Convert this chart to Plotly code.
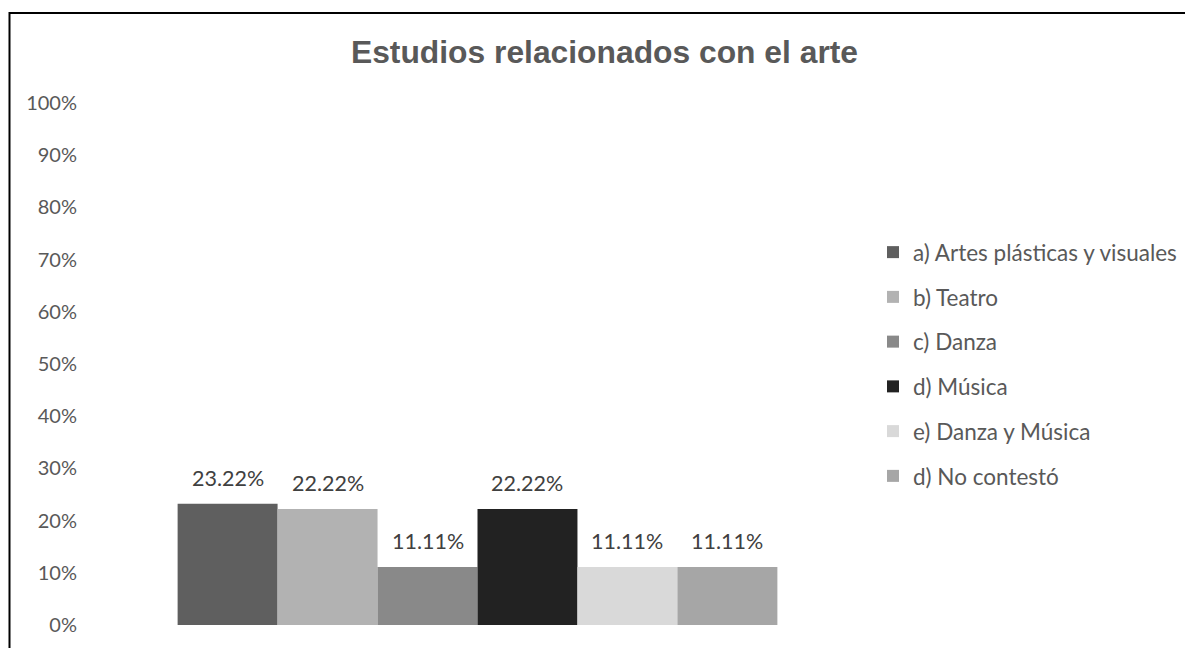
import plotly.graph_objects as go

series_names = [
    "a) Artes plásticas y visuales",
    "b) Teatro",
    "c) Danza",
    "d) Música",
    "e) Danza y Música",
    "d) No contestó",
]
series_values = [0.2322, 0.2222, 0.1111, 0.2222, 0.1111, 0.1111]
series_colors = ["#5f5f5f", "#b2b2b2", "#898989", "#222222", "#d9d9d9", "#a6a6a6"]
category = [""]
y_ticks = [0, 0.1, 0.2, 0.3, 0.4, 0.5, 0.6, 0.7, 0.8, 0.9, 1.0]

W, H = 1185, 648
ML, MR, MT, MB = 95, 325, 103, 23
BARGAP = 0.216
plot_w = W - ML - MR
plot_h = H - MT - MB


def px_x(sx):
    return (sx - ML) / plot_w


def px_y(sy):
    return (H - MB - sy) / plot_h


FONT = "Lato, Open Sans, sans-serif"

fig = go.Figure()
n = len(series_names)
for i, (name, val, col) in enumerate(zip(series_names, series_values, series_colors)):
    fig.add_trace(go.Bar(
        x=category, y=[val], name=name, marker=dict(color=col, line=dict(width=0)),
        legendgroup=f"g{i}",
        hoverinfo="skip",
    ))
    # data label above each bar (offset within the bar group)
    offset = -(1 - BARGAP) / 2 + (i + 0.5) * (1 - BARGAP) / n
    fig.add_annotation(
        x=offset, y=val, xref="x", yref="y", text=f"{val:.2%}",
        showarrow=False, yanchor="bottom", yshift=11,
        font=dict(family=FONT, size=21.5, color="#404040"),
    )

# chart border (outer frame; right and bottom edges lie outside the view)
fig.add_shape(
    type="rect", xref="paper", yref="paper",
    x0=px_x(9.5), x1=px_x(1260),
    y0=-0.2, y1=px_y(13),
    line=dict(color="#000000", width=2), fillcolor="rgba(0,0,0,0)", layer="below",
)

fig.update_layout(
    width=W, height=H,
    margin=dict(l=ML, r=MR, t=MT, b=MB, autoexpand=False),
    paper_bgcolor="white", plot_bgcolor="white",
    barmode="group", bargap=BARGAP, bargroupgap=0,
    title=dict(
        text="<b>Estudios relacionados con el arte</b>",
        x=604.5 / W, xanchor="center", y=1 - 52 / H, yanchor="middle",
        font=dict(family="Liberation Sans, Arial, sans-serif", size=31.8, color="#595959"),
    ),
    xaxis=dict(showticklabels=False, showgrid=False, zeroline=False, showline=False, ticks=""),
    yaxis=dict(
        range=[0, 1], tickvals=y_ticks, tickformat=".0%",
        showgrid=False, zeroline=False, showline=False, ticks="",
        ticklabelstandoff=17,
        tickfont=dict(family=FONT, size=20, color="#595959"),
    ),
    legend=dict(
        x=px_x(873), xanchor="left", y=px_y(364), yanchor="middle",
        font=dict(family=FONT, size=22.5, color="#595959"),
        tracegroupgap=12.5, bgcolor="rgba(0,0,0,0)",
    ),
    showlegend=True,
)

fig.write_html(
    "out.html",
    config={"displayModeBar": False},
    post_script="document.body.style.margin='0';document.body.style.overflow='hidden';",
)
